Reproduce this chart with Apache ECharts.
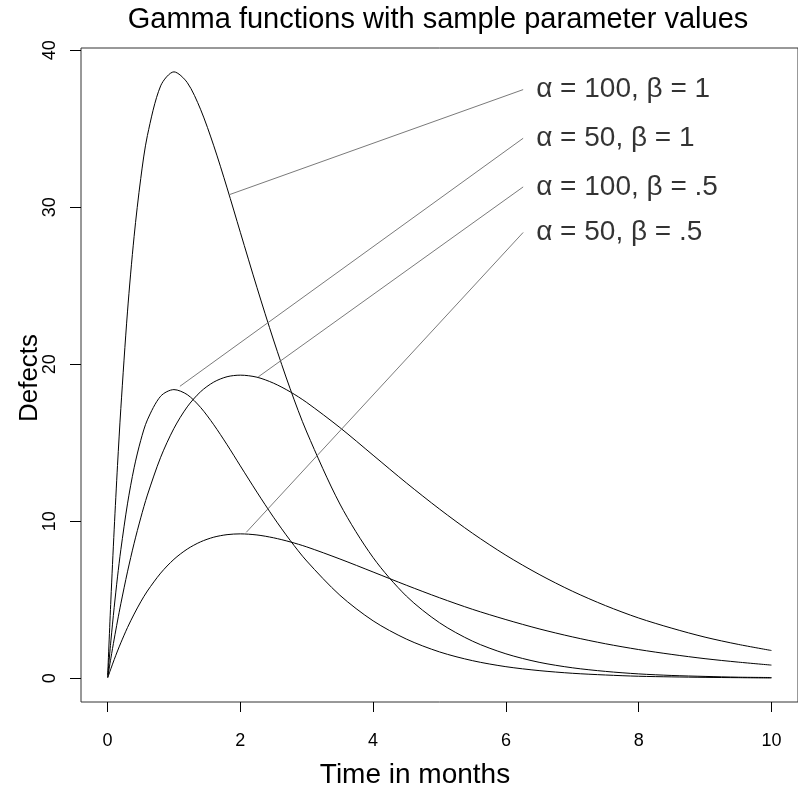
<!DOCTYPE html>
<html>
<head>
<meta charset="utf-8">
<script src="https://cdn.jsdelivr.net/npm/echarts@6/dist/echarts.min.js"></script>
<style>
  html, body { margin: 0; padding: 0; background: #fff; }
  #chart { width: 798px; height: 793px; }
</style>
</head>
<body>
<div id="chart"></div>
<script>
// values
const months = [0.002, 0.05, 0.1, 0.15, 0.2, 0.3, 0.4, 0.5, 0.6, 0.8,
  1.0, 1.2, 1.4, 1.6, 1.8, 2.0, 2.25, 2.5, 2.75, 3.0,
  3.5, 4.0, 4.5, 5.0, 5.5, 6.0, 6.5, 7.0, 7.5, 8.0, 8.5, 9.0, 9.5, 10.0]
const a100b1 = [0.2, 4.99, 9.5, 13.56, 17.19, 23.34, 28.15, 31.84, 34.57, 37.74,
  38.63, 37.95, 36.25, 33.92, 31.24, 28.41, 24.9, 21.55, 18.45, 15.69,
  11.1, 7.69, 5.24, 3.54, 2.36, 1.56, 1.02, 0.67, 0.44, 0.28, 0.18, 0.12, 0.07, 0.05]
const a50b1 = [0.1, 2.38, 4.52, 6.46, 8.19, 11.11, 13.41, 15.16, 16.46, 17.97,
  18.39, 18.07, 17.26, 16.15, 14.88, 13.53, 11.86, 10.26, 8.79, 7.47,
  5.29, 3.66, 2.5, 1.68, 1.12, 0.74, 0.49, 0.32, 0.21, 0.13, 0.09, 0.06, 0.04, 0.02]
const a100b05 = [0.05, 1.28, 2.5, 3.65, 4.75, 6.78, 8.6, 10.22, 11.67, 14.08,
  15.92, 17.29, 18.25, 18.87, 19.21, 19.31, 19.18, 18.8, 18.25, 17.57,
  15.97, 14.21, 12.45, 10.78, 9.23, 7.84, 6.62, 5.55, 4.63, 3.84, 3.19, 2.62, 2.16, 1.77]
const a50b05 = [0.03, 0.61, 1.19, 1.74, 2.26, 3.23, 4.09, 4.87, 5.56, 6.7,
  7.58, 8.23, 8.69, 8.99, 9.15, 9.2, 9.13, 8.95, 8.69, 8.37,
  7.6, 6.77, 5.93, 5.13, 4.39, 3.74, 3.15, 2.64, 2.2, 1.83, 1.52, 1.25, 1.03, 0.84]

// labels and their leader lines: [point on curve, label anchor]
const labelNames = ['α = 100, β = 1', 'α = 50, β = 1', 'α = 100, β = .5', 'α = 50, β = .5']
const leaderFrom = [[1.83, 30.8], [1.09, 18.6], [2.27, 19.2], [2.09, 9.3]]
const leaderTo = [[6.26, 37.5], [6.26, 34.4], [6.26, 31.3], [6.26, 28.4]]

const xTicks = [0, 2, 4, 6, 8, 10]
const yTicks = [0, 10, 20, 30, 40]

const font = 'Liberation Sans, Arial, sans-serif'

const curve = (vals) => ({
  type: 'line',
  data: months.map((m, i) => [m, vals[i]]),
  showSymbol: false,
  smooth: 0.3,
  silent: true,
  lineStyle: { color: '#000', width: 1 },
})

const leaders = labelNames.map((name, i) => ({
  type: 'line',
  data: [leaderFrom[i], leaderTo[i]],
  showSymbol: false,
  silent: true,
  lineStyle: { color: '#7a7a7a', width: 1 },
}))

const chart = echarts.init(document.getElementById('chart'))
chart.setOption({
  animation: false,
  backgroundColor: '#fff',
  grid: {
    left: 81, top: 48, width: 723.5, height: 654,
    show: true, borderColor: '#333', borderWidth: 1,
  },
  xAxis: {
    type: 'value', min: -0.4, max: 10.4,
    axisLine: { show: false, onZero: false },
    splitLine: { show: false },
    axisTick: { show: true, length: 10, customValues: xTicks, lineStyle: { color: '#000' } },
    axisLabel: { customValues: xTicks, margin: 30, fontSize: 18, color: '#000', fontFamily: font },
  },
  yAxis: {
    type: 'value', min: -1.51, max: 40.15,
    axisLine: { show: false, onZero: false },
    splitLine: { show: false },
    axisTick: { show: true, length: 11, customValues: yTicks, lineStyle: { color: '#000' } },
    axisLabel: { customValues: yTicks, rotate: 90, margin: 22, fontSize: 18, color: '#000', fontFamily: font },
  },
  graphic: [
    { type: 'text', x: 438, y: 20,
      style: { text: 'Gamma functions with sample parameter values', align: 'center', verticalAlign: 'middle',
        fontSize: 29, fontFamily: font, fill: '#000' } },
    { type: 'text', x: 415, y: 775,
      style: { text: 'Time in months', align: 'center', verticalAlign: 'middle', fontSize: 28, fontFamily: font, fill: '#000' } },
    { type: 'text', x: 30, y: 378, rotation: Math.PI / 2,
      style: { text: 'Defects', align: 'center', verticalAlign: 'middle', fontSize: 26, fontFamily: font, fill: '#000' } },
  ],
  series: [
    curve(a100b1), curve(a50b1), curve(a100b05), curve(a50b05),
    ...leaders,
    {
      type: 'scatter',
      data: leaderTo.map((p, i) => ({ value: p, name: labelNames[i] })),
      symbolSize: 0,
      silent: true,
      label: {
        show: true, position: 'right', distance: 13, formatter: '{b}',
        fontSize: 28, fontFamily: font, color: '#000',
      },
    },
  ],
})
</script>
</body>
</html>
